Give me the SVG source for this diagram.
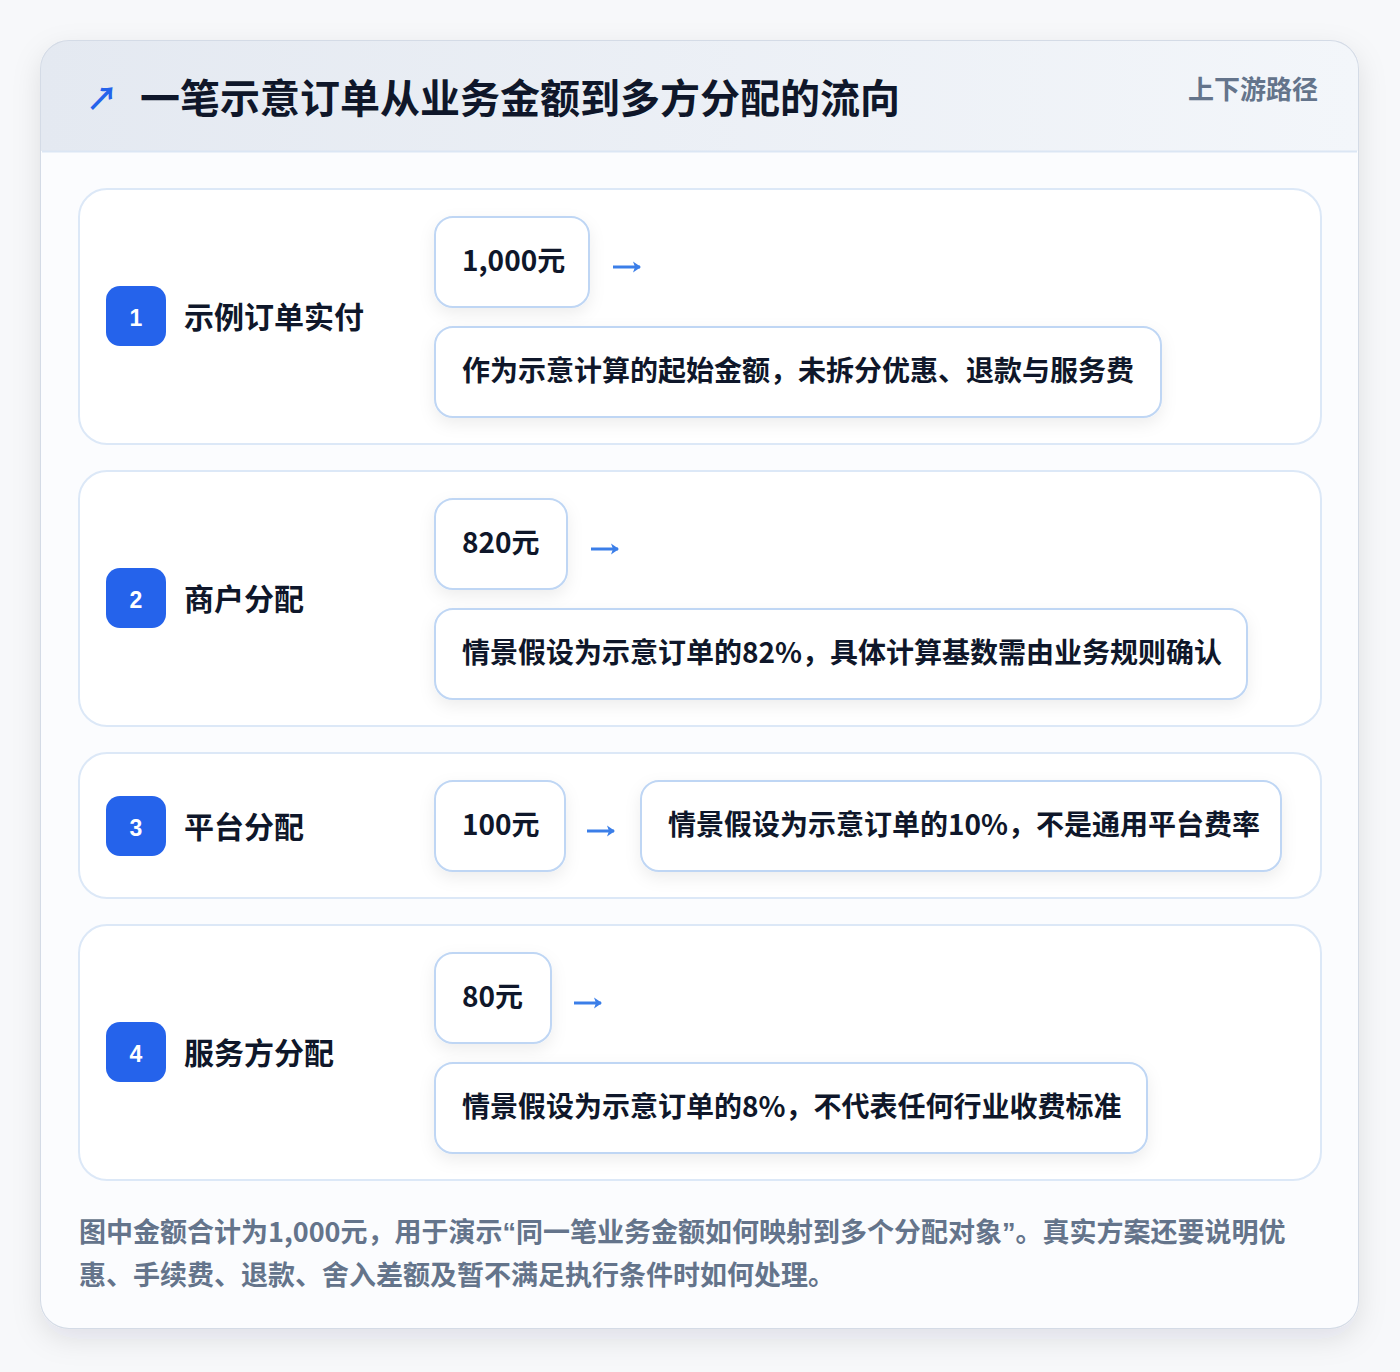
<svg xmlns="http://www.w3.org/2000/svg" width="1400" height="1372" viewBox="0 0 1400 1372">
<defs>
<linearGradient id="hdr" x1="0" y1="0" x2="1" y2="0"><stop offset="0" stop-color="#e4e9f1"/><stop offset="1" stop-color="#f3f6fa"/></linearGradient>
<filter id="cardShadow" x="-10%" y="-10%" width="120%" height="120%"><feDropShadow dx="0" dy="10" stdDeviation="14" flood-color="#0f172a" flood-opacity="0.10"/></filter>
<filter id="boxShadow" x="-20%" y="-30%" width="140%" height="170%"><feDropShadow dx="0" dy="6" stdDeviation="8" flood-color="#0f172a" flood-opacity="0.07"/></filter>
<clipPath id="cardClip"><rect x="41" y="41" width="1317" height="1287" rx="28"/></clipPath>
<marker id="ah" viewBox="0 0 8 12" refX="7" refY="6" markerWidth="8" markerHeight="12" orient="auto" markerUnits="userSpaceOnUse"><path d="M0,0.5 L8,6 L0,11.5 L2,6 Z" fill="#3b7ee8"/></marker>
<style>
.t{font-family:"Noto Sans CJK SC","Noto Sans",sans-serif;font-weight:700}
.row{fill:#ffffff;stroke:#dce8f7;stroke-width:2}
.box{fill:#ffffff;stroke:#bfd6f4;stroke-width:2;filter:url(#boxShadow)}
.badge{fill:#2563eb}
.num{fill:#ffffff;font-size:23px;text-anchor:middle;font-family:"Liberation Sans",Arial,sans-serif;font-weight:700}
.lbl{fill:#0f172a;font-size:30px}
.amt{fill:#0f172a;font-size:28px}
.desc{fill:#0f172a;font-size:28px}
.arr{stroke:#3b7ee8;stroke-width:3;fill:none;marker-end:url(#ah)}
.foot{fill:#64748b;font-size:27px}
.q{font-family:"Liberation Sans",Arial,sans-serif}
</style>
</defs>
<rect x="0" y="0" width="1400" height="1372" fill="#f7f8fa"/>
<g id="card">
<rect x="41" y="41" width="1317" height="1287" rx="28" fill="#ffffff" stroke="#d4dbe6" stroke-width="2" filter="url(#cardShadow)"/>
<g clip-path="url(#cardClip)">
<rect x="41" y="41" width="1317" height="110" fill="url(#hdr)"/>
<rect x="41" y="151" width="1317" height="1177" fill="#fbfcfe"/>
</g>
<line x1="42" y1="151.5" x2="1357" y2="151.5" stroke="#dbe6f4" stroke-width="2"/>
</g>
<g id="header">
<text class="t" x="86" y="110" font-size="32" fill="#2563eb" font-family="DejaVu Sans,sans-serif">↗</text>
<text class="t" x="140" y="113" font-size="40" fill="#0f172a">一笔示意订单从业务金额到多方分配的流向</text>
<text class="t" x="1318" y="99" font-size="26" fill="#64748b" text-anchor="end">上下游路径</text>
</g>
<g id="row1">
<rect class="row" x="79" y="189" width="1242" height="255" rx="28"/>
<rect class="badge" x="106" y="286" width="60" height="60" rx="14"/>
<text class="num" x="136" y="326">1</text>
<text class="t lbl" x="184" y="328">示例订单实付</text>
<rect class="box" x="435" y="217" width="154" height="90" rx="18"/>
<text class="t amt" x="462" y="271">1,000元</text>
<rect class="box" x="435" y="327" width="726" height="90" rx="18"/>
<text class="t desc" x="462" y="381">作为示意计算的起始金额，未拆分优惠、退款与服务费</text>
</g>
<g id="row2">
<rect class="row" x="79" y="471" width="1242" height="255" rx="28"/>
<rect class="badge" x="106" y="568" width="60" height="60" rx="14"/>
<text class="num" x="136" y="608">2</text>
<text class="t lbl" x="184" y="610">商户分配</text>
<rect class="box" x="435" y="499" width="132" height="90" rx="18"/>
<text class="t amt" x="462" y="553">820元</text>
<rect class="box" x="435" y="609" width="812" height="90" rx="18"/>
<text class="t desc" x="462" y="663">情景假设为示意订单的82%，具体计算基数需由业务规则确认</text>
</g>
<g id="row3">
<rect class="row" x="79" y="753" width="1242" height="145" rx="28"/>
<rect class="badge" x="106" y="796" width="60" height="60" rx="14"/>
<text class="num" x="136" y="836">3</text>
<text class="t lbl" x="184" y="838">平台分配</text>
<rect class="box" x="435" y="781" width="130" height="90" rx="18"/>
<text class="t amt" x="462" y="835">100元</text>
<rect class="box" x="641" y="781" width="640" height="90" rx="18"/>
<text class="t desc" x="668" y="835">情景假设为示意订单的10%，不是通用平台费率</text>
</g>
<g id="row4">
<rect class="row" x="79" y="925" width="1242" height="255" rx="28"/>
<rect class="badge" x="106" y="1022" width="60" height="60" rx="14"/>
<text class="num" x="136" y="1062">4</text>
<text class="t lbl" x="184" y="1064">服务方分配</text>
<rect class="box" x="435" y="953" width="116" height="90" rx="18"/>
<text class="t amt" x="462" y="1007">80元</text>
<rect class="box" x="435" y="1063" width="712" height="90" rx="18"/>
<text class="t desc" x="462" y="1117">情景假设为示意订单的8%，不代表任何行业收费标准</text>
</g>
<g id="connectors">
<line class="arr" x1="613" y1="267" x2="640" y2="267"/>
<line class="arr" x1="591" y1="549" x2="618" y2="549"/>
<line class="arr" x1="587" y1="831" x2="614" y2="831"/>
<line class="arr" x1="574" y1="1003" x2="601" y2="1003"/>
</g>
<g id="footer">
<text class="t foot" x="79" y="1242">图中金额合计为1,000元，用于演示<tspan class="q">“</tspan>同一笔业务金额如何映射到多个分配对象<tspan class="q">”</tspan>。真实方案还要说明优</text>
<text class="t foot" x="79" y="1285">惠、手续费、退款、舍入差额及暂不满足执行条件时如何处理。</text>
</g>
</svg>
